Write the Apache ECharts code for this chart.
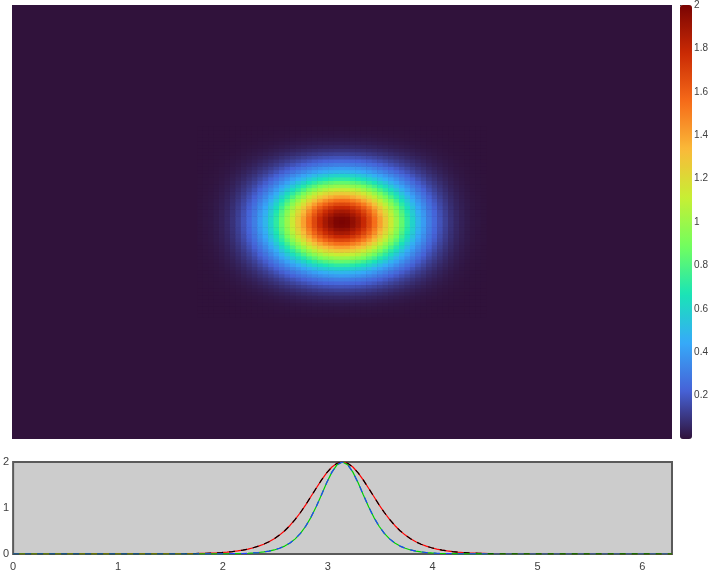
<!DOCTYPE html>
<html>
<head>
<meta charset="utf-8">
<script src="https://cdn.jsdelivr.net/npm/echarts@6/dist/echarts.min.js"></script>
<style>
  html, body { margin: 0; padding: 0; background: #ffffff; }
  #main { width: 711px; height: 572px; }
</style>
</head>
<body>
<div id="main"></div>
<script>
// half profile of the blob (centre cell outwards)
var mapProfile = [2.00, 1.99, 1.94, 1.88, 1.79, 1.68, 1.55, 1.41, 1.27, 1.13, 0.99, 0.85, 0.72, 0.60,
  0.49, 0.40, 0.31, 0.24, 0.18, 0.13, 0.09, 0.06, 0.04, 0.025, 0.015, 0.01, 0.005];
var mapCells = 121; // cells per side, 0..2pi

// bottom panel
var lineX = [0,
  1.64, 1.69, 1.74, 1.79, 1.84, 1.89, 1.94, 1.99, 2.04, 2.09, 2.14, 2.19, 2.24, 2.29, 2.34, 2.39, 2.44, 2.49, 2.54, 2.59,
  2.64, 2.69, 2.74, 2.79, 2.84, 2.89, 2.94, 2.99, 3.04, 3.09, 3.14, 3.19, 3.24, 3.29, 3.34, 3.39, 3.44, 3.49, 3.54, 3.59,
  3.64, 3.69, 3.74, 3.79, 3.84, 3.89, 3.94, 3.99, 4.04, 4.09, 4.14, 4.19, 4.24, 4.29, 4.34, 4.39, 4.44, 4.49, 4.54, 4.59,
  4.64, 6.2832];
var wideLine = [0,
  0.006, 0.008, 0.010, 0.013, 0.016, 0.021, 0.026, 0.033, 0.042, 0.053, 0.067, 0.085, 0.107, 0.135, 0.170, 0.213, 0.266, 0.331, 0.411, 0.506,
  0.620, 0.752, 0.902, 1.069, 1.249, 1.430, 1.607, 1.765, 1.891, 1.972, 2.000, 1.972, 1.891, 1.765, 1.607, 1.430, 1.249, 1.069, 0.902, 0.752,
  0.620, 0.506, 0.411, 0.331, 0.266, 0.213, 0.170, 0.135, 0.107, 0.085, 0.067, 0.053, 0.042, 0.033, 0.026, 0.021, 0.016, 0.013, 0.010, 0.008,
  0.006, 0];
var narrowLine = [0,
  0, 0, 0, 0.001, 0.001, 0.001, 0.002, 0.003, 0.004, 0.006, 0.008, 0.011, 0.016, 0.023, 0.032, 0.045, 0.063, 0.088, 0.124, 0.172,
  0.239, 0.329, 0.448, 0.603, 0.797, 1.028, 1.285, 1.548, 1.780, 1.942, 2.000, 1.942, 1.780, 1.548, 1.285, 1.028, 0.797, 0.603, 0.448, 0.329,
  0.239, 0.172, 0.124, 0.088, 0.063, 0.045, 0.032, 0.023, 0.016, 0.011, 0.008, 0.006, 0.004, 0.003, 0.002, 0.001, 0.001, 0.001, 0, 0,
  0, 0];

var colorTicks = [0.2, 0.4, 0.6, 0.8, 1, 1.2, 1.4, 1.6, 1.8, 2];

var turbo = ['#30123b', '#4662d7', '#36aaf9', '#1ae4b6', '#72fe5e', '#c7ef34', '#faba39', '#f66b19', '#ca2a04', '#7a0403'];

var cats = [];
for (var i = 0; i < mapCells; i++) cats.push(i);
var mid = (mapCells - 1) / 2;
var half = mapProfile.length - 1;
var heat = [];
for (var i = 0; i < mapCells; i++) {
  for (var j = 0; j < mapCells; j++) {
    var a = Math.abs(i - mid), b = Math.abs(j - mid);
    if (a <= half && b <= half) {
      heat.push([i, j, mapProfile[a] * mapProfile[b] / 2]);
    }
  }
}

function pairs(xs, ys) {
  return xs.map(function (x, k) { return [x, ys[k]]; });
}

var tickText = { color: '#404040', fontFamily: 'Liberation Sans' };

var myChart = echarts.init(document.getElementById('main'));
myChart.setOption({
  animation: false,
  grid: [
    { left: 12, top: 5, width: 660, height: 434, show: true, backgroundColor: '#30123b', borderWidth: 0 },
    { left: 680, top: 5, width: 12, height: 434, show: false },
    { left: 12, top: 462, width: 660, height: 92, show: true, backgroundColor: '#cccccc', borderColor: '#5a5a5a', borderWidth: 2 }
  ],
  xAxis: [
    { type: 'category', gridIndex: 0, data: cats, show: false },
    { type: 'value', gridIndex: 1, show: false, min: 0, max: 1 },
    {
      type: 'value', gridIndex: 2, min: 0, max: 6.2832, interval: 1,
      axisLine: { show: false }, axisTick: { show: false }, splitLine: { show: false },
      axisLabel: Object.assign({ margin: 7, fontSize: 11, showMaxLabel: false }, tickText)
    }
  ],
  yAxis: [
    { type: 'category', gridIndex: 0, data: cats, show: false },
    {
      type: 'value', gridIndex: 1, position: 'right', min: 0, max: 2, interval: 0.2,
      axisLine: { show: false }, splitLine: { show: false },
      axisTick: { show: true, length: 3, customValues: colorTicks, lineStyle: { color: '#333' } },
      axisLabel: Object.assign({ margin: 5, fontSize: 10, customValues: colorTicks }, tickText)
    },
    {
      type: 'value', gridIndex: 2, min: 0, max: 2, interval: 1,
      axisLine: { show: false }, axisTick: { show: false }, splitLine: { show: false },
      axisLabel: Object.assign({ margin: 4, fontSize: 11 }, tickText)
    }
  ],
  visualMap: {
    type: 'continuous', seriesIndex: 0, min: 0, max: 2,
    calculable: false, hoverLink: false,
    left: 680, top: 5, padding: 0, itemWidth: 12, itemHeight: 434,
    inRange: { color: turbo }
  },
  series: [
    {
      type: 'heatmap', xAxisIndex: 0, yAxisIndex: 0, data: heat, progressive: 0,
      itemStyle: { borderWidth: 0 }, emphasis: { disabled: true }
    },
    {
      type: 'line', xAxisIndex: 2, yAxisIndex: 2, data: pairs(lineX, wideLine), showSymbol: false,
      lineStyle: { color: '#ff0000', width: 1.2 }
    },
    {
      type: 'line', xAxisIndex: 2, yAxisIndex: 2, data: pairs(lineX, wideLine), showSymbol: false,
      lineStyle: { color: '#000000', width: 1.2, type: [6, 6] }
    },
    {
      type: 'line', xAxisIndex: 2, yAxisIndex: 2, data: pairs(lineX, narrowLine), showSymbol: false,
      lineStyle: { color: '#00d000', width: 1.2 }
    },
    {
      type: 'line', xAxisIndex: 2, yAxisIndex: 2, data: pairs(lineX, narrowLine), showSymbol: false,
      lineStyle: { color: '#1f3fff', width: 1.2, type: [6, 6] }
    }
  ]
});
</script>
</body>
</html>
